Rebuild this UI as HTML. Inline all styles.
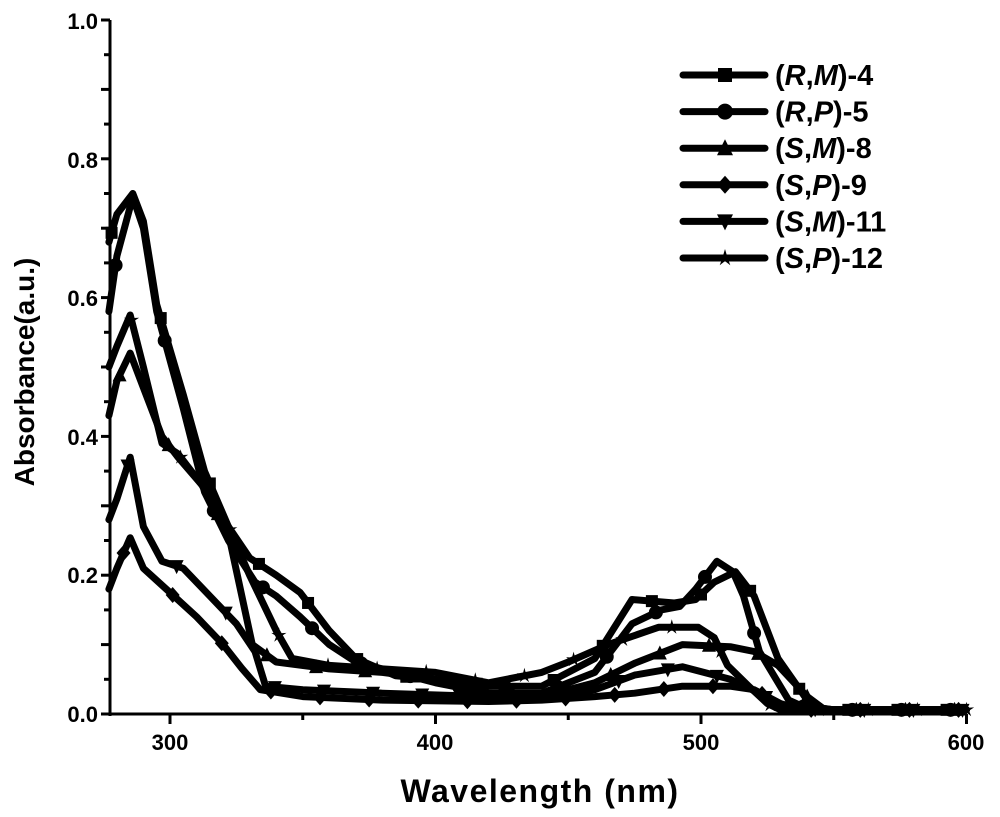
<!DOCTYPE html>
<html><head><meta charset="utf-8"><style>
html,body{margin:0;padding:0;background:#fff;}
svg{display:block;font-family:"Liberation Sans",Arial,sans-serif;font-weight:bold;}
</style></head><body>
<svg id="s" width="1000" height="817" viewBox="0 0 1000 817" xmlns="http://www.w3.org/2000/svg">
<rect width="1000" height="817" fill="#fff"/>
<g id="plot"></g>
<g stroke="#000" stroke-width="3" fill="none">
<line x1="110" y1="20" x2="110" y2="716"/>
<line x1="108" y1="714" x2="967" y2="714"/>
</g>
<g id="ticks" stroke="#000" stroke-width="3"></g>
<g font-size="22" text-anchor="end">
<text x="98" y="722">0.0</text><text x="98" y="583">0.2</text><text x="98" y="445">0.4</text>
<text x="98" y="306">0.6</text><text x="98" y="168">0.8</text><text x="98" y="29">1.0</text>
</g>
<g font-size="22" text-anchor="middle">
<text x="170" y="750">300</text><text x="435" y="750">400</text><text x="701" y="750">500</text><text x="966" y="750">600</text>
</g>
<text x="540" y="802" font-size="32" text-anchor="middle" letter-spacing="1.5">Wavelength (nm)</text>
<text transform="translate(34,372) rotate(-90)" font-size="28" text-anchor="middle">Absorbance(a.u.)</text>
<g id="legend"></g>
</svg>
<script>
var NS="http://www.w3.org/2000/svg";
function X(n){return 170+(n-300)*2.655;}
function Y(a){return 714-a*694;}
function el(t,a,p){var e=document.createElementNS(NS,t);for(var k in a)e.setAttribute(k,a[k]);p.appendChild(e);return e;}
function marker(type,x,y,p,s){s=s||6;
 if(type=="sq")el("rect",{x:x-s,y:y-s,width:2*s,height:2*s,fill:"#000"},p);
 else if(type=="ci")el("circle",{cx:x,cy:y,r:s+1,fill:"#000"},p);
 else if(type=="up")el("polygon",{points:(x)+","+(y-s-2)+" "+(x-s-1)+","+(y+s)+" "+(x+s+1)+","+(y+s),fill:"#000"},p);
 else if(type=="dn")el("polygon",{points:(x)+","+(y+s+2)+" "+(x-s-1)+","+(y-s)+" "+(x+s+1)+","+(y-s),fill:"#000"},p);
 else if(type=="di")el("polygon",{points:x+","+(y-s-2)+" "+(x+s+1)+","+y+" "+x+","+(y+s+2)+" "+(x-s-1)+","+y,fill:"#000"},p);
 else if(type=="st"){var pts=[];for(var i=0;i<10;i++){var r=i%2?s*0.45:s+2;var an=-Math.PI/2+i*Math.PI/5;pts.push((x+r*Math.cos(an)).toFixed(1)+","+(y+r*Math.sin(an)).toFixed(1));}el("polygon",{points:pts.join(" "),fill:"#000"},p);}
}
var tail=[[550,0.006],[600,0.006]];
var S=[
 {m:"sq",d:[[277,0.68],[280,0.72],[286,0.75],[290,0.71],[295,0.59],[305,0.46],[313,0.35],[322,0.27],[330,0.225],[340,0.2],[349,0.175],[360,0.12],[370,0.08],[385,0.055],[400,0.05],[420,0.04],[440,0.04],[460,0.08],[474,0.165],[490,0.16],[498,0.165],[505,0.19],[513,0.205],[520,0.17],[529,0.08],[540,0.02],[546,0.008]]},
 {m:"ci",d:[[277,0.58],[280,0.66],[286,0.745],[290,0.7],[295,0.58],[305,0.44],[313,0.32],[322,0.25],[332,0.19],[340,0.17],[349,0.14],[360,0.1],[370,0.075],[385,0.06],[400,0.045],[420,0.03],[440,0.03],[460,0.06],[474,0.13],[485,0.15],[492,0.155],[498,0.18],[506,0.22],[512,0.205],[516,0.17],[522,0.09],[533,0.02],[540,0.008]]},
 {m:"up",d:[[277,0.43],[280,0.48],[285,0.52],[290,0.47],[297,0.40],[303,0.37],[312,0.33],[322,0.26],[331,0.1],[340,0.075],[360,0.065],[380,0.06],[400,0.05],[420,0.03],[440,0.025],[460,0.045],[475,0.073],[493,0.1],[511,0.097],[520,0.09],[529,0.07],[540,0.025],[546,0.008]]},
 {m:"di",d:[[277,0.18],[280,0.21],[285,0.254],[290,0.21],[300,0.175],[310,0.14],[320,0.10],[327,0.066],[334,0.035],[350,0.025],[380,0.02],[420,0.018],[440,0.02],[460,0.025],[475,0.03],[493,0.04],[511,0.04],[520,0.035],[530,0.015],[538,0.006]]},
 {m:"dn",d:[[277,0.28],[280,0.31],[285,0.37],[290,0.27],[297,0.22],[305,0.21],[315,0.17],[325,0.13],[332,0.09],[336,0.04],[350,0.035],[380,0.03],[420,0.025],[440,0.025],[460,0.035],[475,0.056],[493,0.068],[511,0.05],[522,0.03],[532,0.008]]},
 {m:"st",d:[[277,0.50],[280,0.53],[285,0.575],[290,0.5],[297,0.39],[303,0.375],[312,0.33],[322,0.27],[330,0.2],[340,0.12],[346,0.08],[360,0.07],[380,0.065],[400,0.06],[420,0.045],[440,0.06],[450,0.075],[465,0.1],[484,0.125],[499,0.125],[505,0.11],[510,0.07],[518,0.04],[525,0.015],[530,0.006]]}
];
var plot=document.getElementById("plot");
S.forEach(function(s,si){
 var d=s.d.concat(tail);
 var pts=d.map(function(p){return X(p[0]).toFixed(1)+","+Y(p[1]).toFixed(1);}).join(" ");
 el("polyline",{points:pts,fill:"none",stroke:"#000","stroke-width":7,"stroke-linejoin":"round","stroke-linecap":"round"},plot);
 function interp(n){for(var i=0;i<d.length-1;i++){if(n>=d[i][0]&&n<=d[i+1][0]){var t=(n-d[i][0])/(d[i+1][0]-d[i][0]);return d[i][1]+t*(d[i+1][1]-d[i][1]);}}return 0.006;}
 for(var n=278+si*1.5;n<=600;n+=18.5){marker(s.m,X(n),Y(interp(n)),plot,6);}
});
var tk=document.getElementById("ticks");
for(var a=0;a<=1.001;a+=0.05){var y=Y(a);el("line",{x1:a%0.1<0.01||a%0.1>0.09?101:104,y1:y,x2:110,y2:y},tk);}
for(var n=300;n<=600;n+=50){var x=X(n);el("line",{x1:x,y1:714,x2:x,y2:n%100==0?724:720},tk);}
var lg=document.getElementById("legend");
var names=[["R","M","4"],["R","P","5"],["S","M","8"],["S","P","9"],["S","M","11"],["S","P","12"]];
var ms=["sq","ci","up","di","dn","st"];
names.forEach(function(nm,i){var y=75+i*36.6;
 el("line",{x1:683,y1:y,x2:765,y2:y,stroke:"#000","stroke-width":7,"stroke-linecap":"round"},lg);
 marker(ms[i],725,y,lg,7);
 var t=el("text",{x:775,y:y+10,"font-size":29},lg);
 t.innerHTML='(<tspan font-style="italic">'+nm[0]+'</tspan>,<tspan font-style="italic">'+nm[1]+'</tspan>)-'+nm[2];
});
</script>
</body></html>
